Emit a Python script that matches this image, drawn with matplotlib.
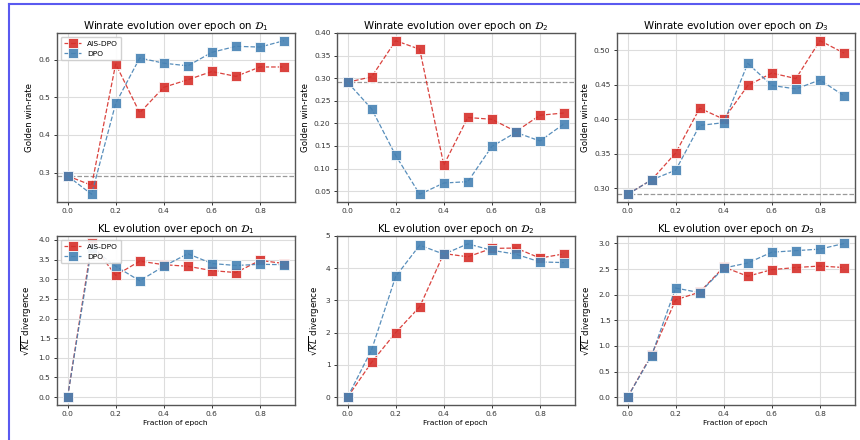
import numpy as np
import matplotlib
matplotlib.use("Agg")
import matplotlib.pyplot as plt
from matplotlib.lines import Line2D

# fraction of the epoch at which each checkpoint was evaluated
epochs = [0.0, 0.1, 0.2, 0.3, 0.4, 0.5, 0.6, 0.7, 0.8, 0.9]
datasets = ["1", "2", "3"]
baseline_winrate = [0.291, 0.291, 0.291]

# golden win-rate per dataset
win_ais = [
    [0.291, 0.266, 0.589, 0.459, 0.527, 0.547, 0.569, 0.556, 0.581, 0.581],
    [0.291, 0.303, 0.383, 0.364, 0.108, 0.213, 0.209, 0.182, 0.218, 0.223],
    [0.291, 0.312, 0.351, 0.416, 0.400, 0.449, 0.467, 0.459, 0.514, 0.496],
]
win_dpo = [
    [0.291, 0.242, 0.484, 0.605, 0.591, 0.584, 0.620, 0.636, 0.634, 0.651],
    [0.291, 0.232, 0.129, 0.043, 0.068, 0.071, 0.149, 0.180, 0.161, 0.199],
    [0.291, 0.312, 0.326, 0.391, 0.395, 0.481, 0.449, 0.444, 0.457, 0.434],
]

# sqrt(KL) divergence per dataset
kl_ais = [
    [0.0, 3.91, 3.10, 3.46, 3.37, 3.33, 3.22, 3.17, 3.48, 3.40],
    [0.0, 1.08, 2.00, 2.80, 4.45, 4.35, 4.61, 4.62, 4.31, 4.44],
    [0.0, 0.83, 1.90, 2.05, 2.54, 2.36, 2.49, 2.53, 2.56, 2.53],
]
kl_dpo = [
    [0.0, 3.80, 3.33, 2.96, 3.33, 3.65, 3.40, 3.35, 3.38, 3.37],
    [0.0, 1.47, 3.74, 4.71, 4.43, 4.75, 4.55, 4.43, 4.19, 4.17],
    [0.0, 0.81, 2.13, 2.04, 2.52, 2.62, 2.83, 2.86, 2.89, 3.00],
]

win_yticks = [
    [0.3, 0.4, 0.5, 0.6],
    [0.05, 0.10, 0.15, 0.20, 0.25, 0.30, 0.35, 0.40],
    [0.30, 0.35, 0.40, 0.45, 0.50],
]
kl_yticks = [
    [0.0, 0.5, 1.0, 1.5, 2.0, 2.5, 3.0, 3.5, 4.0],
    [0, 1, 2, 3, 4, 5],
    [0.0, 0.5, 1.0, 1.5, 2.0, 2.5, 3.0],
]

RED = "#d62f2a"
BLUE = "#4682b4"

fig, axes = plt.subplots(2, 3, figsize=(8.6, 4.4), dpi=100)
fig.subplots_adjust(left=0.066, right=0.994, top=0.925, bottom=0.08,
                    wspace=0.176, hspace=0.2)


def style(ax):
    ax.grid(True, color="#dddddd", linewidth=0.8)
    ax.set_axisbelow(True)
    for s in ax.spines.values():
        s.set_color("#555555")
        s.set_linewidth(1.0)
    ax.tick_params(labelsize=5.4, colors="#333333", length=2.5, width=0.7,
                   pad=2)
    ax.set_xticks([0.0, 0.2, 0.4, 0.6, 0.8])


def draw(ax, ais, dpo):
    kw = dict(linestyle="--", linewidth=0.9, marker="s", markersize=6.6,
              markeredgecolor="white", markeredgewidth=0.6)
    ax.plot(epochs, ais, color=RED, label="AIS-DPO", alpha=0.9, **kw)
    ax.plot(epochs, dpo, color=BLUE, label="DPO", alpha=0.9, **kw)


for i, d in enumerate(datasets):
    ax = axes[0, i]
    draw(ax, win_ais[i], win_dpo[i])
    ax.axhline(baseline_winrate[i], color="gray", linestyle="--",
               linewidth=0.9, alpha=0.8, zorder=1)
    ax.set_title(r"Winrate evolution over epoch on $\mathcal{D}_%s$" % d,
                 fontsize=7.4, pad=3)
    ax.set_ylabel("Golden win-rate", fontsize=6.2, labelpad=3)
    style(ax)
    ax.set_yticks(win_yticks[i])

    ax = axes[1, i]
    draw(ax, kl_ais[i], kl_dpo[i])
    ax.set_title(r"KL evolution over epoch on $\mathcal{D}_%s$" % d,
                 fontsize=7.4, pad=3)
    ax.set_ylabel(r"$\sqrt{KL}$ divergence", fontsize=6.2, labelpad=3)
    ax.set_xlabel("Fraction of epoch", fontsize=5.4, labelpad=2)
    style(ax)
    ax.set_yticks(kl_yticks[i])

for ax in axes[:, 0]:
    ax.legend(loc="upper left", fontsize=5.4, handlelength=2.2,
              borderpad=0.5, labelspacing=0.5, borderaxespad=0.5,
              framealpha=0.9)

# frame lines along the left and top edge
fig.add_artist(Line2D([9 / 860, 9 / 860], [0, 1 - 4 / 440],
                      transform=fig.transFigure, color="#5a5af0", linewidth=1.5))
fig.add_artist(Line2D([9 / 860, 1], [1 - 4 / 440, 1 - 4 / 440],
                      transform=fig.transFigure, color="#5a5af0", linewidth=1.5))

fig.savefig("out.png", dpi=100)
